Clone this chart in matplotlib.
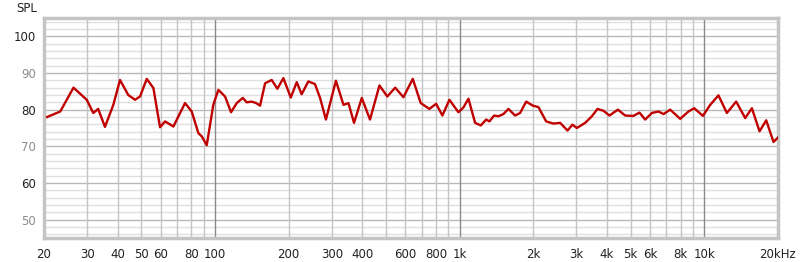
import numpy as np
import matplotlib
matplotlib.use('Agg')
import matplotlib.pyplot as plt

# frequency response (Hz, dB SPL)
freq = [20.6, 23.3, 26.4, 29.9, 31.8, 33.3, 35.5, 38.4, 40.9, 44.2, 47.1, 49.4, 52.6, 56.0,
        59.6, 62.5, 67.6, 75.4, 80.3, 85.5, 88.3, 92.5, 98.4, 103.2, 109.9, 116.3, 122.7,
        129.9, 134.8, 141.3, 147.2, 152.8, 160.2, 170.5, 179.8, 190.3, 204, 215.8, 226,
        240.7, 256, 268.8, 284, 312, 335, 351, 370, 398, 430, 470, 506, 545, 589, 643,
        693, 752, 801, 850, 908, 988, 1036, 1086, 1156, 1220, 1283, 1323, 1383, 1440,
        1509, 1582, 1685, 1766, 1870, 1991, 2098, 2256, 2417, 2575, 2758, 2890, 3012,
        3257, 3470, 3658, 3870, 4094, 4432, 4746, 5132, 5430, 5728, 6104, 6496, 6808,
        7250, 7966, 8612, 9090, 9864, 10564, 11420, 12360, 13490, 14690, 15640, 16810,
        17900, 19170, 20000]
spl = [78.0, 79.5, 86.0, 82.7, 79.1, 80.2, 75.3, 81.3, 88.1, 84.0, 82.7, 83.6, 88.4, 85.9,
       75.2, 76.8, 75.4, 81.8, 79.5, 73.6, 72.7, 70.3, 81.3, 85.4, 83.6, 79.3, 81.8,
       83.2, 82.0, 82.2, 81.8, 81.1, 87.2, 88.1, 85.7, 88.6, 83.3, 87.5, 84.2,
       87.7, 87.0, 83.2, 77.3, 87.9, 81.3, 81.8, 76.4, 83.2, 77.3, 86.6, 83.6, 86.0, 83.4, 88.4,
       81.8, 80.2, 81.6, 78.4, 82.7, 79.3, 80.6, 83.0, 76.4, 75.7, 77.3, 76.8, 78.4, 78.2,
       78.8, 80.2, 78.4, 79.1, 82.2, 81.1, 80.7, 76.8, 76.2, 76.4, 74.3, 75.9, 75.0,
       76.4, 78.2, 80.2, 79.7, 78.4, 80.0, 78.4, 78.3, 79.2, 77.3, 79.1, 79.5, 78.8,
       80.0, 77.5, 79.5, 80.4, 78.3, 81.3, 83.9, 79.1, 82.2, 77.7, 80.4, 74.1,
       77.1, 71.2, 72.4]

xtick_vals = [20, 30, 40, 50, 60, 80, 100, 200, 300, 400, 600, 800, 1000,
              2000, 3000, 4000, 5000, 6000, 8000, 10000, 20000]
xtick_labels = ['20', '30', '40', '50', '60', '80', '100', '200', '300', '400', '600', '800', '1k',
                '2k', '3k', '4k', '5k', '6k', '8k', '10k', '20kHz']
ytick_vals = [50, 60, 70, 80, 90, 100]

fig = plt.figure(figsize=(8, 2.62), dpi=100)
ax = fig.add_axes([44/800, 1-238/262, 734/800, 220/262])

ax.set_xscale('log')
ax.set_xlim(20, 20000)
ax.set_ylim(45, 105)

# grid lines: 1-2-...-9 per decade, decades drawn darker
grid_f = [m * d for d in (10, 100, 1000) for m in range(2, 11)] + [20000]
for f in grid_f:
    c = '#8a8a8a' if f in (100, 1000, 10000) else '#c4c4c4'
    ax.axvline(f, color=c, lw=1, zorder=1)
for v in range(46, 105, 2):
    c = '#b8b8b8' if v % 10 == 0 else '#e0e0e0'
    ax.axhline(v, color=c, lw=1, zorder=0.5)

ax.plot(freq, spl, color='#c00000', lw=1.7, zorder=3, solid_joinstyle='round')

ax.set_xticks(xtick_vals)
ax.set_xticklabels(xtick_labels)
ax.xaxis.set_minor_locator(matplotlib.ticker.NullLocator())
ax.set_yticks(ytick_vals)
ax.set_yticklabels([str(v) for v in ytick_vals])
ax.tick_params(length=0, labelsize=8.5, pad=6)
ax.tick_params(axis='x', pad=7)
for lab, v in zip(ax.get_yticklabels(), ytick_vals):
    lab.set_color('#222222' if v % 20 == 0 else '#8c8c8c')
for lab in ax.get_xticklabels():
    lab.set_color('#222222')

for s in ax.spines.values():
    s.set_color('#c4c4c4')
    s.set_linewidth(2.5)

fig.text(16/800, 1-8/262, 'SPL', fontsize=8.5, color='#222222', va='center', ha='left')

fig.savefig('out.png', dpi=100)
